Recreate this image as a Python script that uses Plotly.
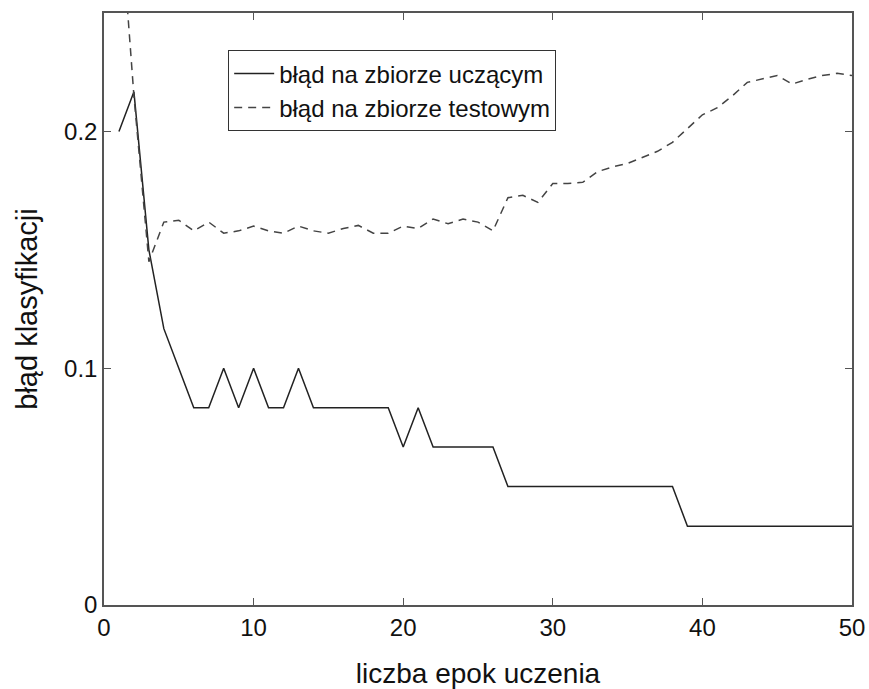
import plotly.graph_objects as go

epochs = list(range(1, 51))
train_err = [0.2, 0.2167, 0.15, 0.1167, 0.1, 0.0833, 0.0833, 0.1, 0.0833, 0.1,
             0.0833, 0.0833, 0.1, 0.0833, 0.0833, 0.0833, 0.0833, 0.0833, 0.0833, 0.0667,
             0.0833, 0.0667, 0.0667, 0.0667, 0.0667, 0.0667, 0.05, 0.05, 0.05, 0.05,
             0.05, 0.05, 0.05, 0.05, 0.05, 0.05, 0.05, 0.05, 0.0333, 0.0333,
             0.0333, 0.0333, 0.0333, 0.0333, 0.0333, 0.0333, 0.0333, 0.0333, 0.0333, 0.0333]
test_err = [0.30, 0.215, 0.145, 0.1617, 0.1625, 0.158, 0.1617, 0.157, 0.158, 0.160,
            0.158, 0.157, 0.160, 0.158, 0.157, 0.159, 0.1603, 0.157, 0.157, 0.160,
            0.159, 0.163, 0.161, 0.163, 0.1617, 0.158, 0.172, 0.173, 0.170, 0.178,
            0.178, 0.1785, 0.183, 0.185, 0.1865, 0.189, 0.1916, 0.1954, 0.201, 0.207,
            0.210, 0.215, 0.2207, 0.222, 0.2236, 0.220, 0.222, 0.2236, 0.2245, 0.2236]

x_ticks = [0, 10, 20, 30, 40, 50]
y_ticks = [0, 0.1, 0.2]
y_tick_text = ["0", "0.1", "0.2"]

FONT = "Liberation Sans, Arial, sans-serif"

fig = go.Figure()
fig.add_trace(go.Scatter(x=epochs, y=train_err, mode="lines",
                         name="błąd na zbiorze uczącym",
                         line=dict(color="#222222", width=1.5)))
fig.add_trace(go.Scatter(x=epochs, y=test_err, mode="lines",
                         name="błąd na zbiorze testowym",
                         line=dict(color="#444444", width=1.5, dash="8px,6px")))

axis_common = dict(showline=True, linecolor="#555555", linewidth=1.5, mirror="ticks",
                   ticks="inside", ticklen=7, tickcolor="#555555", tickwidth=1.2,
                   showgrid=False, zeroline=False, automargin=False,
                   tickfont=dict(family=FONT, size=24, color="#111111"))

fig.update_xaxes(range=[0, 50], tickvals=x_ticks,
                 title=dict(text="liczba epok uczenia", standoff=30,
                            font=dict(family=FONT, size=28, color="#111111")),
                 **axis_common)
fig.update_yaxes(range=[0, 0.25], tickvals=y_ticks, ticktext=y_tick_text,
                 title=dict(text="błąd klasyfikacji", standoff=18,
                            font=dict(family=FONT, size=29, color="#111111")),
                 **axis_common)

fig.update_layout(
    width=869, height=689,
    margin=dict(l=104, r=17, t=13, b=84),
    paper_bgcolor="white", plot_bgcolor="white",
    showlegend=True,
    legend=dict(x=0.166, y=0.937, xanchor="left", yanchor="top",
                bgcolor="white", bordercolor="#333333", borderwidth=1,
                font=dict(family=FONT, size=24, color="#111111"),
                tracegroupgap=0, itemwidth=40),
)

fig.write_html("out.html")
